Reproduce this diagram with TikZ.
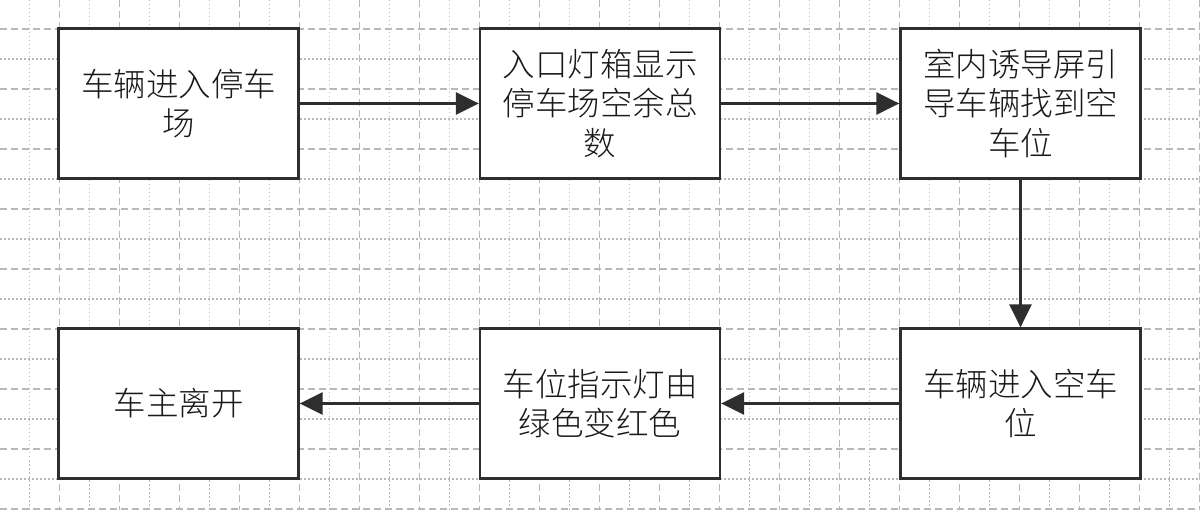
\documentclass[tikz,border=0pt]{standalone}
\usepackage{fontspec}
\newfontfamily\cjk{Noto Sans CJK SC}[UprightFont=* Light]
\usetikzlibrary{arrows.meta}
\definecolor{gridc}{HTML}{B8B8B8}
\definecolor{edgec}{HTML}{2E2E2E}
\begin{document}
\begin{tikzpicture}[x=1pt,y=-1pt,
  box/.style={draw=edgec,line width=2.3pt,fill=white,minimum width=240pt,minimum height=150pt,
    inner sep=0pt,align=center,font=\cjk\fontsize{32.5}{39.5}\selectfont,text=black!90},
  flow/.style={draw=edgec,line width=2.6pt,-{Triangle[length=23pt,width=22pt]}},
  gmaj/.style={draw=gridc,line width=1.1pt,dash pattern=on 7pt off 4pt},
  gmin/.style={draw=gridc,line width=1.1pt,dash pattern=on 1.5pt off 2.5pt}]
\useasboundingbox (0,0) rectangle (1200,510);
\fill[white] (0,0) rectangle (1200,510);
% grid
\foreach \k in {0,...,40}{
  \pgfmathtruncatemacro\ev{mod(\k,2)}
  \ifnum\ev=0 \draw[gmaj] (30*\k-0.5,0) -- (30*\k-0.5,510);
  \else \draw[gmin] (30*\k-0.5,0) -- (30*\k-0.5,510); \fi
}
\foreach \k in {-1,...,16}{
  \pgfmathtruncatemacro\ev{mod(\k+2,2)}
  \ifnum\ev=0 \draw[gmaj] (0,29+30*\k) -- (1200,29+30*\k);
  \else \draw[gmin] (0,29+30*\k) -- (1200,29+30*\k); \fi
}
% boxes
\node[box] (b1) at (178.5,103.5) {车辆进入停车\\场};
\node[box] (b2) at (600,103.5) {入口灯箱显示\\停车场空余总\\数};
\node[box] (b3) at (1020.5,103.5) {室内诱导屏引\\导车辆找到空\\车位};
\node[box] (b4) at (1020.5,403.5) {车辆进入空车\\位};
\node[box] (b5) at (600,403.5) {车位指示灯由\\绿色变红色};
\node[box] (b6) at (178.5,403.5) {车主离开};
% connectors
\draw[flow] (b1) -- (b2);
\draw[flow] (b2) -- (b3);
\draw[flow] (b3) -- (b4);
\draw[flow] (b4) -- (b5);
\draw[flow] (b5) -- (b6);
\end{tikzpicture}
\end{document}
